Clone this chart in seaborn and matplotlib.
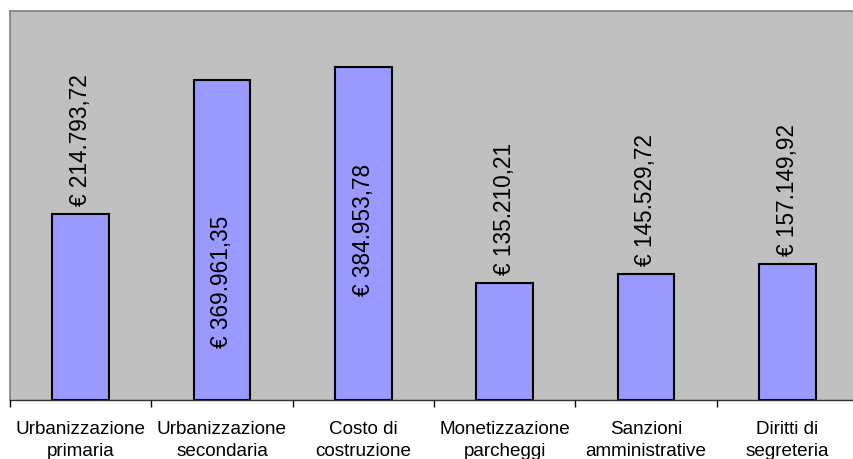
import matplotlib
matplotlib.use("Agg")
import matplotlib.pyplot as plt
import seaborn as sns
import pandas as pd

categories = [
    "Urbanizzazione\nprimaria",
    "Urbanizzazione\nsecondaria",
    "Costo di\ncostruzione",
    "Monetizzazione\nparcheggi",
    "Sanzioni\namministrative",
    "Diritti di\nsegreteria",
]
values = [214793.72, 369961.35, 384953.78, 135210.21, 145529.72, 157149.92]
value_labels = [
    "€ 214.793,72",
    "€ 369.961,35",
    "€ 384.953,78",
    "€ 135.210,21",
    "€ 145.529,72",
    "€ 157.149,92",
]
# where each value label sits: None = just above the bar,
# a number = centre of the label as a fraction of the bar height
label_inside = [None, 0.37, 0.51, None, None, None]

df = pd.DataFrame({"categoria": categories, "importo": values})

sns.set_theme(style="white")
plt.rcParams["font.family"] = ["Liberation Sans", "DejaVu Sans"]

fig = plt.figure(figsize=(8.54, 4.59), dpi=100)
ax = fig.add_axes([10 / 854, 59 / 459, 848 / 854, 389 / 459])
ax.set_facecolor("#C0C0C0")

sns.barplot(
    data=df, x="categoria", y="importo", ax=ax,
    color="#9999FF", saturation=1, width=0.4,
    edgecolor="black", linewidth=1.5,
)

ax.set_ylim(0, 450000)
ax.set_xlim(-0.5, len(categories) - 0.5)
ax.set_xlabel("")
ax.set_ylabel("")
ax.set_yticks([])

# category labels centred, tick marks on the category boundaries
ax.set_xticks(range(len(categories)))
ax.set_xticklabels(categories, fontsize=13.6, color="black", linespacing=1.4)
ax.tick_params(axis="x", which="major", length=0, pad=15)
ax.set_xticks([i - 0.5 for i in range(len(categories) + 1)], minor=True)
ax.tick_params(axis="x", which="minor", length=5, width=1, color="black",
               direction="out", bottom=True)

for side in ("left", "top", "right"):
    ax.spines[side].set_color("#808080")
    ax.spines[side].set_linewidth(1.2)
ax.spines["bottom"].set_color("#333333")
ax.spines["bottom"].set_linewidth(1.0)

for i, (v, txt, pos) in enumerate(zip(values, value_labels, label_inside)):
    if pos is None:
        ax.annotate(txt, (i, v), xytext=(0, 6), textcoords="offset points",
                    rotation=90, ha="center", va="bottom", fontsize=16.3,
                    color="black")
    else:
        ax.text(i, v * pos, txt, rotation=90, ha="center", va="center",
                fontsize=16.3, color="black")

fig.savefig("out.png", dpi=100, facecolor="white")
